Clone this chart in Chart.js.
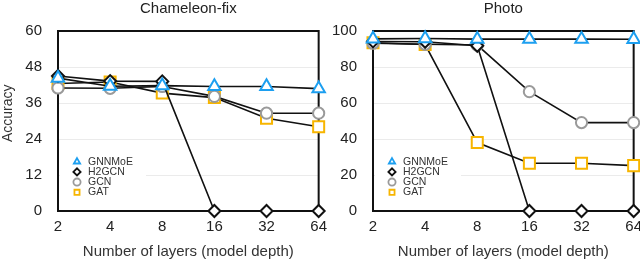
<!DOCTYPE html>
<html>
<head>
<meta charset="utf-8">
<script src="https://cdn.jsdelivr.net/npm/chart.js@4.4.1/dist/chart.umd.min.js"></script>
<style>
html, body { margin: 0; padding: 0; background: #fff; overflow: hidden; width: 640px; height: 261px; }
#wrap { position: relative; width: 640px; height: 261px; overflow: hidden; }
.box { position: absolute; top: 0; height: 261px; }
</style>
</head>
<body>
<div id="wrap">
  <div class="box" style="left:0;width:334px"><canvas id="chart-left" width="334" height="261"></canvas></div>
  <div class="box" style="left:325px;width:324px"><canvas id="chart-right" width="324" height="261"></canvas></div>
</div>
<script>
// number of layers (x axis)
var layers = ['2', '4', '8', '16', '32', '64'];
var seriesNames = ['GNNMoE', 'H2GCN', 'GCN', 'GAT'];

// Chameleon-fix accuracy
var chamGnnmoe = [44.3, 41.6, 41.8, 41.5, 41.5, 40.8];
var chamH2gcn = [45.0, 43.3, 43.2, 0, 0, 0];
var chamGcn = [41.0, 40.9, 41.5, 38.2, 32.6, 32.6];
var chamGat = [42.5, 43.0, 39.3, 37.8, 30.9, 28.1];

// Photo accuracy
var photoGnnmoe = [95.6, 95.8, 95.5, 95.5, 95.5, 95.4];
var photoH2gcn = [94.2, 94.0, 91.8, 0, 0, 0];
var photoGcn = [93.2, 92.6, 92.2, 66.3, 49.1, 49.1];
var photoGat = [93.5, 92.5, 38.0, 26.5, 26.5, 25.2];

Chart.defaults.font.family = "'Liberation Sans', Arial, sans-serif";
Chart.defaults.color = '#222';

var markers = [
    { style: 'triangle', color: '#1c9ff0', radius: 7.2 },
    { style: 'rectRot', color: '#111111', radius: 6 },
    { style: 'circle', color: '#9a9a9a', radius: 5.6 },
    { style: 'rect', color: '#f7b500', radius: 7.8 }
];

function makeSets(values) {
    return values.map(function (data, i) {
        var m = markers[i];
        return {
            label: seriesNames[i],
            data: data,
            borderColor: '#111',
            borderWidth: 1.6,
            pointStyle: m.style,
            pointRadius: m.radius,
            pointHoverRadius: m.radius,
            pointBorderColor: m.color,
            pointBackgroundColor: '#fff',
            pointBorderWidth: 2,
            clip: false
        };
    });
}

// black frame round the plot + legend box inside the plot
var framePlugin = {
    id: 'frameAndLegend',
    beforeDatasetsDraw: function (chart) {
        var ctx = chart.ctx, a = chart.chartArea;
        ctx.save();
        ctx.fillStyle = '#fff';
        ctx.fillRect(a.left + 2, a.bottom - 59, 86, 46);
        ctx.strokeStyle = '#111';
        ctx.lineWidth = 2;
        ctx.strokeRect(a.left, a.top, a.right - a.left, a.bottom - a.top);

        chart.data.datasets.forEach(function (ds, i) {
            var y = a.bottom - 49.3 + i * 10.2;
            ctx.fillStyle = '#fff';
            ctx.strokeStyle = markers[i].color;
            ctx.lineWidth = 1.8;
            Chart.helpers.drawPoint(ctx, { pointStyle: ds.pointStyle, radius: 3.6, borderWidth: 1.8 }, a.left + 19, y);
            ctx.fillStyle = '#333';
            ctx.font = "10.5px 'Liberation Sans', Arial, sans-serif";
            ctx.textBaseline = 'middle';
            ctx.textAlign = 'left';
            ctx.fillText(ds.label, a.left + 30, y);
        });
        ctx.restore();
    }
};

function makeChart(id, title, values, yMax, yStep, yTitle, axisWidth) {
    return new Chart(document.getElementById(id), {
        type: 'line',
        data: { labels: layers, datasets: makeSets(values) },
        plugins: [framePlugin],
        options: {
            responsive: false,
            animation: false,
            devicePixelRatio: 1,
            layout: { padding: 0 },
            plugins: {
                legend: { display: false },
                tooltip: { enabled: false },
                title: {
                    display: true,
                    text: title,
                    fullSize: false,
                    color: '#222',
                    font: { size: 15, weight: 'normal' },
                    padding: { top: 0, bottom: 13 }
                }
            },
            scales: {
                x: {
                    offset: false,
                    grid: { display: false, drawTicks: false },
                    border: { display: false },
                    ticks: { font: { size: 15 }, color: '#222', padding: 7, maxRotation: 0 },
                    title: {
                        display: true,
                        text: 'Number of layers (model depth)',
                        color: '#333',
                        font: { size: 15 },
                        padding: { top: 0, bottom: 0 }
                    },
                    afterFit: function (scale) { scale.height = 50; }
                },
                y: {
                    min: 0,
                    max: yMax,
                    grid: {
                        drawTicks: false,
                        color: function (c) {
                            return (c.tick.value === 0 || c.tick.value === yMax) ? 'rgba(0,0,0,0)' : '#ebebeb';
                        },
                        lineWidth: 1
                    },
                    border: { display: false },
                    ticks: { stepSize: yStep, font: { size: 15 }, color: '#222', padding: 16 },
                    title: {
                        display: !!yTitle,
                        text: yTitle,
                        color: '#333',
                        font: { size: 14 },
                        padding: 0
                    },
                    afterFit: function (scale) { scale.width = axisWidth; }
                }
            }
        }
    });
}

var leftChart = makeChart('chart-left', 'Chameleon-fix',
    [chamGnnmoe, chamH2gcn, chamGcn, chamGat], 60, 12, '    Accuracy', 58);
var rightChart = makeChart('chart-right', 'Photo',
    [photoGnnmoe, photoH2gcn, photoGcn, photoGat], 100, 20, '', 48);
</script>
</body>
</html>
